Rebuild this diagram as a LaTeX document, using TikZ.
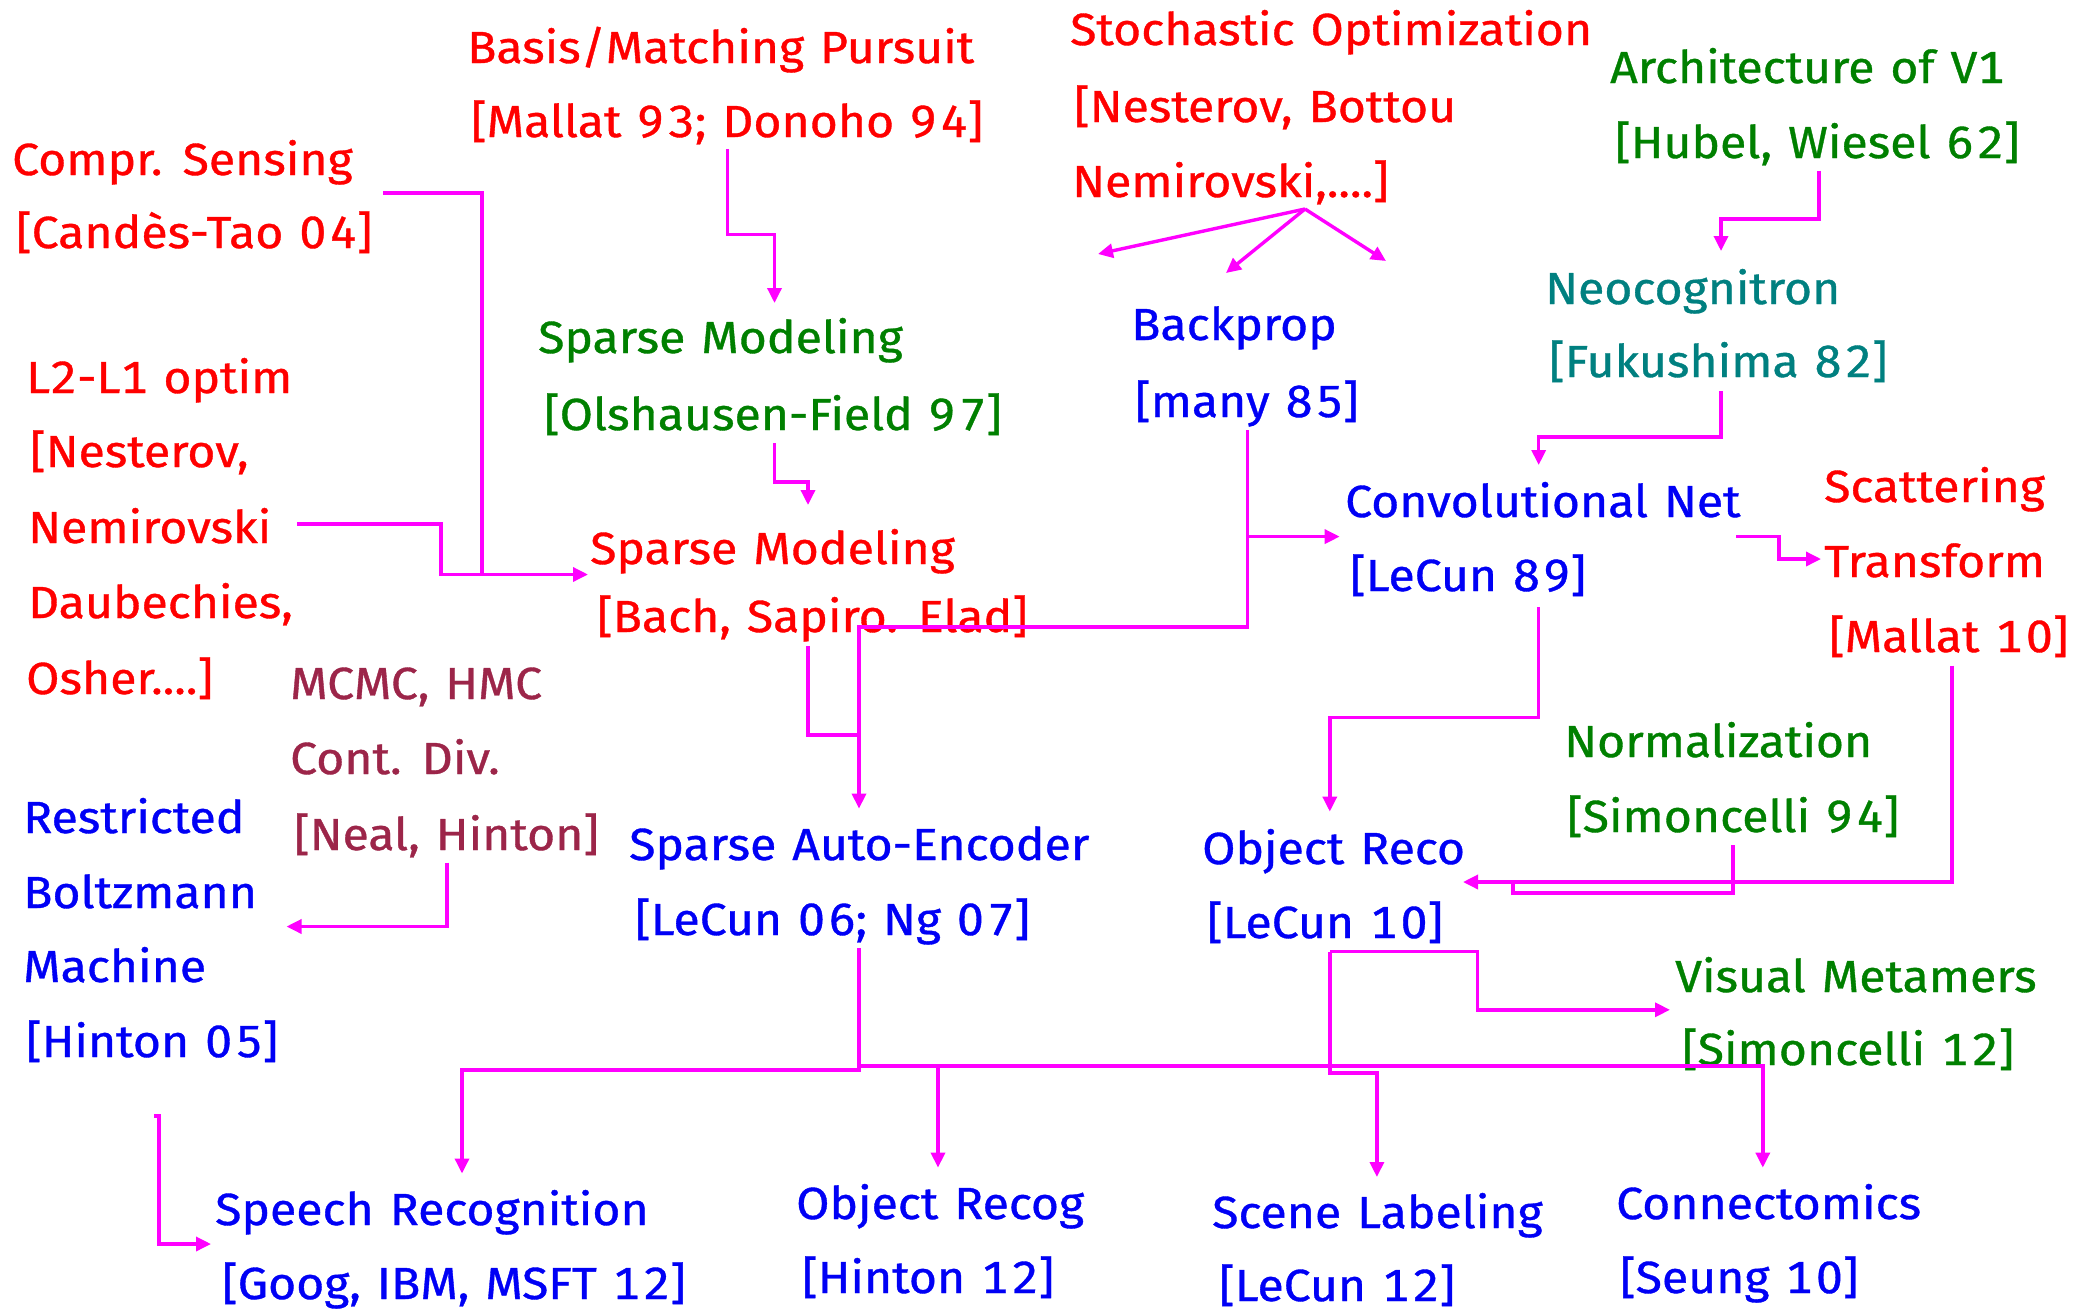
\documentclass[tikz,border=0pt]{standalone}
\usepackage{fontspec}
\setmainfont[FakeStretch=1.07, Numbers={Monospaced,Lining}, FakeBold=0.8, WordSpace=1.25]{Fira Sans}
\newcommand\nm[1]{{\addfontfeature{LetterSpace=8}#1}}
\usetikzlibrary{arrows.meta}
\definecolor{cred}{RGB}{255,0,0}
\definecolor{cgreen}{RGB}{0,128,0}
\definecolor{cblue}{RGB}{0,0,245}
\definecolor{cteal}{RGB}{0,128,128}
\definecolor{cmaroon}{RGB}{156,37,73}
\definecolor{cmag}{RGB}{255,0,255}
\begin{document}
\begin{tikzpicture}[x=1pt,y=-1pt,
  lbl/.style={anchor=base west, inner sep=0pt, font=\fontsize{45}{54}\selectfont},
  rtxt/.style={lbl, text=cred},
  gtxt/.style={lbl, text=cgreen},
  btxt/.style={lbl, text=cblue},
  ttxt/.style={lbl, text=cteal},
  mtxt/.style={lbl, text=cmaroon},
  link/.style={draw=cmag, line width=3.4pt},
  arr/.style={link, -{Triangle[length=15pt,width=14pt]}}
]
\fill[white] (0,0) rectangle (2081,1315);
\useasboundingbox (0,0) rectangle (2081,1315);

% ---- text nodes ----
\node[rtxt] (basisA) at (467,63) {Basis/Matching Pursuit};
\node[rtxt] (basisB) at (471,137) {[Mallat \nm{93}; Donoho \nm{94}]};
\node[rtxt] (compA) at (12,175) {Compr. Sensing};
\node[rtxt] (compB) at (16,248) {[Candès-Tao \nm{04}]};
\node[rtxt] (stoA) at (1070,45) {Stochastic Optimization};
\node[rtxt] (stoB) at (1074,122) {[Nesterov, Bottou};
\node[rtxt] (stoC) at (1072,197) {Nemirovski,....]};
\node[gtxt] (archA) at (1610,83) {Architecture of V1};
\node[gtxt] (archB) at (1615,158) {[Hubel, Wiesel \nm{62}]};
\node[gtxt] (smA) at (538,353) {Sparse Modeling};
\node[gtxt] (smB) at (544,430) {[Olshausen-Field \nm{97}]};
\node[rtxt] (l2A) at (26,393) {L2-L1 optim};
\node[rtxt] (l2B) at (30,467) {[Nesterov,};
\node[rtxt] (l2C) at (28,543) {Nemirovski};
\node[rtxt] (l2D) at (28,618) {Daubechies,};
\node[rtxt] (l2E) at (26,694) {Osher....]};
\node[btxt] (bpA) at (1131,340) {Backprop};
\node[btxt] (bpB) at (1135,417) {[many \nm{85}]};
\node[ttxt] (neoA) at (1545,304) {Neocognitron};
\node[ttxt] (neoB) at (1549,377) {[Fukushima \nm{82}]};
\node[rtxt] (smrA) at (590,564) {Sparse Modeling};
\node[rtxt] (smrB) at (597,632) {[Bach, Sapiro. Elad]};
\node[btxt] (convA) at (1345,517) {Convolutional Net};
\node[btxt] (convB) at (1350,591) {[LeCun \nm{89}]};
\node[rtxt] (scatA) at (1824,502) {Scattering};
\node[rtxt] (scatB) at (1824,577) {Transform};
\node[rtxt] (scatC) at (1829,652) {[Mallat \nm{10}]};
\node[mtxt] (mcA) at (290,699) {MCMC, HMC};
\node[mtxt] (mcB) at (290,774) {Cont. Div.};
\node[mtxt] (mcC) at (294,850) {[Neal, Hinton]};
\node[btxt] (rbmA) at (23,833) {Restricted};
\node[btxt] (rbmB) at (23,908) {Boltzmann};
\node[btxt] (rbmC) at (23,982) {Machine};
\node[btxt] (rbmD) at (26,1057) {[Hinton \nm{05}]};
\node[btxt] (saeA) at (629,860) {Sparse Auto-Encoder};
\node[btxt] (saeB) at (635,935) {[LeCun \nm{06}; Ng \nm{07}]};
\node[gtxt] (normA) at (1564,757) {Normalization};
\node[gtxt] (normB) at (1567,832) {[Simoncelli \nm{94}]};
\node[btxt] (orA) at (1202,864) {Object Reco};
\node[btxt] (orB) at (1207,938) {[LeCun \nm{10}]};
\node[gtxt] (vmA) at (1675,992) {Visual Metamers};
\node[gtxt] (vmB) at (1682,1065) {[Simoncelli \nm{12}]};
\node[btxt] (spA) at (215,1225) {Speech Recognition};
\node[btxt] (spB) at (222,1299) {[Goog, IBM, MSFT \nm{12}]};
\node[btxt] (ogA) at (796,1219) {Object Recog};
\node[btxt] (ogB) at (802,1293) {[Hinton \nm{12}]};
\node[btxt] (slA) at (1212,1228) {Scene Labeling};
\node[btxt] (slB) at (1219,1301) {[LeCun \nm{12}]};
\node[btxt] (cnA) at (1616,1219) {Connectomics};
\node[btxt] (cnB) at (1620,1293) {[Seung \nm{10}]};

% ---- connector coordinates ----
\coordinate (compOut) at (383,193);
\coordinate (compJ) at (482,574.5);
\coordinate (l2Out) at (297,524);
\coordinate (smrIn) at (588,574.5);
\coordinate (basisOut) at (727.5,149);
\coordinate (smIn) at (774.5,303);
\coordinate (smOut) at (774.5,443);
\coordinate (smrTop) at (808,505);
\coordinate (smrOut) at (808,646);
\coordinate (saeTop) at (859,808.6);
\coordinate (bpOut) at (1247.6,430);
\coordinate (convIn) at (1339.7,536.6);
\coordinate (stoOut) at (1305,209);
\coordinate (stoT1) at (1098,254);
\coordinate (stoT2) at (1226,273);
\coordinate (stoT3) at (1386,261);
\coordinate (archOut) at (1819,170.5);
\coordinate (neoIn) at (1721,251);
\coordinate (neoOut) at (1721,391);
\coordinate (convTop) at (1538.7,465);
\coordinate (convOut) at (1736,536.6);
\coordinate (scatIn) at (1821,559);
\coordinate (convBot) at (1538.7,607);
\coordinate (orTop) at (1329.8,811.6);
\coordinate (scatOut) at (1951.8,665.5);
\coordinate (orIn) at (1463,882);
\coordinate (normOut) at (1733,845);
\coordinate (orBot) at (1329.8,951.7);
\coordinate (vmIn) at (1670,1009.8);
\coordinate (slTop) at (1376.9,1177);
\coordinate (mcOut) at (447,862.5);
\coordinate (rbmIn) at (286.5,926.5);
\coordinate (rbmOut) at (154,1116);
\coordinate (spIn) at (211,1244);
\coordinate (saeOut) at (859,948);
\coordinate (spTop) at (462,1173.5);
\coordinate (ogTop) at (938,1167.6);
\coordinate (cnTop) at (1762.8,1167.6);

% ---- connectors ----
\draw[link] (compOut) -- (482,193) -- (compJ);
\draw[arr] (l2Out) -- (441,524) -- (441,574.5) -- (smrIn);
\draw[arr] (basisOut) -- (727.5,234.5) -- (774.5,234.5) -- (smIn);
\draw[arr] (smOut) -- (774.5,482) -- (808,482) -- (smrTop);
\draw[link] (smrOut) -- (808,735) -- (859,735);
\draw[arr] (bpOut) -- (1247.6,627) -- (859,627) -- (saeTop);
\draw[arr] (1247.6,536.6) -- (convIn);
\draw[arr] (stoOut) -- (stoT1);
\draw[arr] (stoOut) -- (stoT2);
\draw[arr] (stoOut) -- (stoT3);
\draw[arr] (archOut) -- (1819,219) -- (1721,219) -- (neoIn);
\draw[arr] (neoOut) -- (1721,437) -- (1538.7,437) -- (convTop);
\draw[arr] (convOut) -- (1779,536.6) -- (1779,559) -- (scatIn);
\draw[arr] (convBot) -- (1538.7,717.3) -- (1329.8,717.3) -- (orTop);
\draw[arr] (scatOut) -- (1951.8,882) -- (orIn);
\draw[link] (normOut) -- (1733,892.8) -- (1512.8,892.8) -- (1512.8,882);
\draw[arr] (orBot) -- (1477.7,951.7) -- (1477.7,1009.8) -- (vmIn);
\draw[arr] (orBot) -- (1329.8,1073) -- (1376.9,1073) -- (slTop);
\draw[arr] (mcOut) -- (447,926.5) -- (rbmIn);
\draw[arr] (rbmOut) -- (159,1116) -- (159,1244) -- (spIn);
\draw[arr] (saeOut) -- (859,1070) -- (462,1070) -- (spTop);
\draw[arr] (859,1066) -- (1762.8,1066) -- (cnTop);
\draw[arr] (938,1066) -- (ogTop);
\end{tikzpicture}
\end{document}
